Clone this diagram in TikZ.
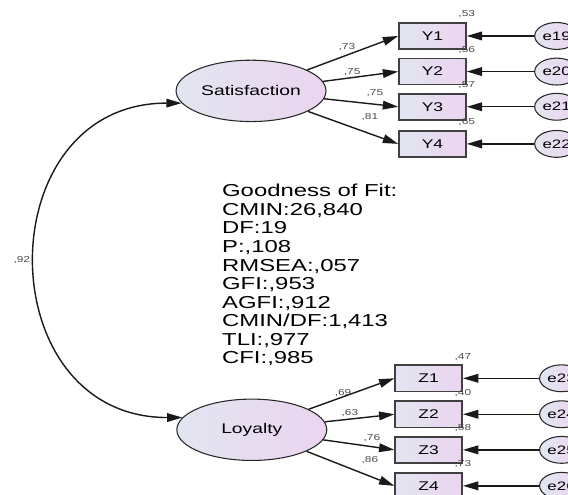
\documentclass[tikz,border=0pt]{standalone}
\usepackage{fontspec}
\setmainfont{Liberation Sans}[FakeStretch=1.38]
\usetikzlibrary{arrows.meta,positioning,shapes.geometric}
\definecolor{semleft}{RGB}{226,230,240}
\definecolor{semright}{RGB}{236,212,240}
\definecolor{semline}{RGB}{40,40,40}

\begin{document}
\begin{tikzpicture}[
    latent/.style={ellipse, draw=semline, line width=0.8pt, left color=semleft, right color=semright, minimum width=3.96cm, minimum height=1.62cm, inner sep=0pt, font=\fontsize{10.5}{12}\selectfont},
    observed/.style={rectangle, draw=black!75, line width=1.2pt, left color=semleft, right color=semright, minimum width=1.77cm, minimum height=0.69cm, inner sep=0pt, font=\fontsize{9.5}{11}\selectfont},
    errterm/.style={ellipse, draw=semline, line width=0.8pt, left color=semleft, right color=semright, minimum width=1.16cm, minimum height=0.71cm, inner sep=0pt, font=\fontsize{9.2}{11}\selectfont},
    link/.style={-{Triangle[length=11.5pt,width=6.5pt]}, line width=1.05pt, draw=black!90},
    est/.style={font=\fontsize{6.5}{7}\selectfont, text=black!70, inner sep=1pt}
]
\useasboundingbox (0,0) rectangle (15,13.07);

\node[latent] (sat) at (6.63,10.67) {Satisfaction};
\node[latent] (loy) at (6.65,1.72) {Loyalty};

% indicators of Satisfaction
\foreach \i/\y/\r/\e in {1/12.12/{,53}/19,2/11.18/{,56}/20,3/10.25/{,57}/21,4/9.27/{,65}/22}{
    \node[observed] (y\i) at (11.42,\y) {Y\i};
    \node[errterm, right=1.78cm of y\i] (e\e) {e\e};
    \node[est, above=2pt of y\i.north east] (ry\i) {\r};
    \draw[link] (e\e) -- (y\i);
    \draw[link] (sat) -- (y\i.west);
}

% indicators of Loyalty
\foreach \i/\y/\r/\e in {1/3.08/{,47}/23,2/2.13/{,40}/24,3/1.19/{,58}/25,4/0.24/{,73}/26}{
    \node[observed] (z\i) at (11.32,\y) {Z\i};
    \node[errterm, right=2.01cm of z\i] (e\e) {e\e};
    \node[est, above=2pt of z\i.north east] (rz\i) {\r};
    \draw[link] (e\e) -- (z\i);
    \draw[link] (loy) -- (z\i.west);
}

\foreach \n/\x/\y/\v in {ly1/9.16/11.83/{,73},ly2/9.30/11.17/{,75},ly3/9.90/10.62/{,75},ly4/9.77/9.98/{,81},lz1/9.06/2.69/{,69},lz2/9.24/2.17/{,63},lz3/9.82/1.51/{,76},lz4/9.77/0.92/{,86}}{
    \node[est] (\n) at (\x,\y) {\v};
}

\draw[link, arrows={Triangle[length=11.5pt,width=6.5pt]-Triangle[length=11.5pt,width=6.5pt]}] (sat.190) to[out=180, in=180, looseness=1.58] node[est, left=3pt] (cov) {,92} (loy.170);

\node[anchor=north west, align=left, inner sep=0pt, font=\fontsize{13}{13.95}\selectfont] (gof) at (5.86,8.21) {Goodness of Fit:\\CMIN:26,840\\DF:19\\P:,108\\RMSEA:,057\\GFI:,953\\AGFI:,912\\CMIN/DF:1,413\\TLI:,977\\CFI:,985};
\end{tikzpicture}
\end{document}
